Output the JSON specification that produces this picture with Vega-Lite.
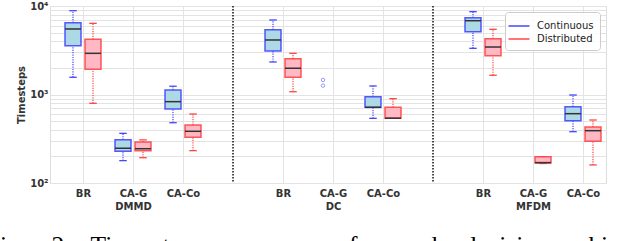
{
  "$schema": "https://vega.github.io/schema/vega-lite/v6.json",
  "width": 556,
  "height": 177,
  "autosize": {"type": "none"},
  "padding": {"left": 50, "top": 6, "right": 34, "bottom": 58},
  "background": "white",
  "config": {
    "font": "DejaVu Sans",
    "view": {"stroke": "#dddddd", "strokeWidth": 1},
    "axis": {"gridColor": "#e3e3e3", "gridWidth": 1, "domain": false, "ticks": false}
  },
  "title": {
    "text": "Fig.\u00a0\u00a0\u00a0\u00a02:\u00a0\u00a0\u00a0Time\u00a0\u00a0\u00a0to\u00a0\u00a0\u00a0convergence\u00a0\u00a0\u00a0for\u00a0\u00a0\u00a0each\u00a0\u00a0\u00a0decision-making",
    "orient": "bottom",
    "anchor": "start",
    "dx": -31,
    "offset": 23,
    "font": "Liberation Serif",
    "fontSize": 25.5,
    "fontWeight": "normal",
    "color": "#000000",
    "baseline": "top"
  },
  "datasets": {
    "boxes": [
      {"slot": 1, "series": "Continuous", "lo": 1565, "q1": 3560, "med": 5500, "q3": 6480, "hi": 8850},
      {"slot": 1, "series": "Distributed", "lo": 795, "q1": 1925, "med": 2920, "q3": 4200, "hi": 6370},
      {"slot": 2, "series": "Continuous", "lo": 179, "q1": 228, "med": 247, "q3": 308, "hi": 364},
      {"slot": 2, "series": "Distributed", "lo": 193, "q1": 232, "med": 244, "q3": 290, "hi": 307},
      {"slot": 3, "series": "Continuous", "lo": 480, "q1": 686, "med": 830, "q3": 1125, "hi": 1240},
      {"slot": 3, "series": "Distributed", "lo": 232, "q1": 328, "med": 384, "q3": 452, "hi": 602},
      {"slot": 5, "series": "Continuous", "lo": 2330, "q1": 3100, "med": 4130, "q3": 5400, "hi": 6950},
      {"slot": 5, "series": "Distributed", "lo": 1075, "q1": 1565, "med": 1980, "q3": 2540, "hi": 2920},
      {"slot": 7, "series": "Continuous", "lo": 538, "q1": 716, "med": 716, "q3": 944, "hi": 1248},
      {"slot": 7, "series": "Distributed", "lo": 538, "q1": 538, "med": 540, "q3": 716, "hi": 897},
      {"slot": 9, "series": "Continuous", "lo": 3325, "q1": 5125, "med": 6820, "q3": 7380, "hi": 8630},
      {"slot": 9, "series": "Distributed", "lo": 1650, "q1": 2745, "med": 3440, "q3": 4270, "hi": 5450},
      {"slot": 10, "series": "Distributed", "lo": 166, "q1": 168, "med": 170, "q3": 198, "hi": 198},
      {"slot": 11, "series": "Continuous", "lo": 380, "q1": 506, "med": 607, "q3": 728, "hi": 987},
      {"slot": 11, "series": "Distributed", "lo": 160, "q1": 296, "med": 390, "q3": 430, "hi": 515}
    ],
    "outliers": [
      {"slot": 6, "series": "Continuous", "value": 1460},
      {"slot": 6, "series": "Continuous", "value": 1260}
    ],
    "separators": [{"sep": 4}, {"sep": 8}]
  },
  "layer": [
    {
      "data": {"name": "separators"},
      "mark": {"type": "rule", "color": "#111111", "strokeDash": [1.5, 1.5], "strokeWidth": 1.5},
      "encoding": {
        "x": {"field": "sep", "type": "quantitative", "scale": {"domain": [0.34, 11.46], "nice": false, "zero": false},
          "axis": {
            "values": [1, 2, 3, 5, 6, 7, 9, 10, 11],
            "title": null,
            "grid": true,
            "labelExpr": "datum.value == 1 || datum.value == 5 || datum.value == 9 ? 'BR' : datum.value == 2 ? ['CA-G','DMMD'] : datum.value == 6 ? ['CA-G','DC'] : datum.value == 10 ? ['CA-G','MFDM'] : 'CA-Co'",
            "labelFontWeight": "bold",
            "labelFontSize": 10,
            "labelColor": "#333333",
            "labelLineHeight": 13,
            "labelPadding": 5
          }
        }
      }
    },
    {
      "data": {"name": "boxes"},
      "transform": [
        {"calculate": "datum.slot + (datum.series == 'Continuous' ? -0.2 : 0.2)", "as": "xpos"},
        {"calculate": "datum.xpos - 0.16", "as": "bl"},
        {"calculate": "datum.xpos + 0.16", "as": "br"},
        {"calculate": "datum.xpos - 0.075", "as": "cl"},
        {"calculate": "datum.xpos + 0.075", "as": "cr"}
      ],
      "resolve": {"legend": {"color": "independent"}},
      "layer": [
        {
          "mark": {"type": "rule", "strokeDash": [1.2, 1.2], "strokeWidth": 1.2},
          "encoding": {
            "x": {"field": "xpos", "type": "quantitative"},
            "y": {"field": "lo", "type": "quantitative",
              "scale": {"type": "log", "domain": [100, 10000], "nice": false},
              "axis": {
                "values": [100, 200, 300, 400, 500, 600, 700, 800, 900, 1000, 2000, 3000, 4000, 5000, 6000, 7000, 8000, 9000, 10000],
                "labelExpr": "datum.value == 100 ? '10²' : datum.value == 1000 ? '10³' : datum.value == 10000 ? '10⁴' : ''",
                "labelFontWeight": "bold",
                "labelFontSize": 10,
                "labelColor": "#333333",
                "labelPadding": 2,
                "title": "Timesteps",
                "titleFontWeight": "bold",
                "titleFontSize": 10,
                "titleColor": "#333333",
                "titlePadding": 3
              }
            },
            "y2": {"field": "q1"},
            "color": {"field": "series", "type": "nominal", "scale": {"domain": ["Continuous", "Distributed"], "range": ["#4646ff", "#ff4646"]}, "legend": null}
          }
        },
        {
          "mark": {"type": "rule", "strokeDash": [1.2, 1.2], "strokeWidth": 1.2},
          "encoding": {
            "x": {"field": "xpos", "type": "quantitative"},
            "y": {"field": "q3", "type": "quantitative"},
            "y2": {"field": "hi"},
            "color": {"field": "series", "type": "nominal", "legend": null}
          }
        },
        {
          "mark": {"type": "rule", "strokeWidth": 1.3},
          "encoding": {
            "x": {"field": "cl", "type": "quantitative"},
            "x2": {"field": "cr"},
            "y": {"field": "lo", "type": "quantitative"},
            "color": {"field": "series", "type": "nominal", "legend": null}
          }
        },
        {
          "mark": {"type": "rule", "strokeWidth": 1.3},
          "encoding": {
            "x": {"field": "cl", "type": "quantitative"},
            "x2": {"field": "cr"},
            "y": {"field": "hi", "type": "quantitative"},
            "color": {
              "field": "series", "type": "nominal",
              "legend": {
                "title": null,
                "orient": "top-right",
                "offset": 6,
                "symbolType": "M-1.5,0H1.5",
                "symbolSize": 196,
                "symbolStrokeWidth": 1.5,
                "symbolFillColor": "transparent",
                "labelFontSize": 10,
                "labelColor": "#222222",
                "labelOffset": 10,
                "fillColor": "rgba(255,255,255,0.85)",
                "strokeColor": "#cccccc",
                "cornerRadius": 3,
                "padding": 6,
                "rowPadding": 0
              }
            }
          }
        },
        {
          "mark": {"type": "bar", "strokeWidth": 1.5, "strokeOpacity": 0.85},
          "encoding": {
            "x": {"field": "bl", "type": "quantitative"},
            "x2": {"field": "br"},
            "y": {"field": "q1", "type": "quantitative"},
            "y2": {"field": "q3"},
            "fill": {"field": "series", "type": "nominal", "scale": {"domain": ["Continuous", "Distributed"], "range": ["#add8e6", "#ffb8c4"]}, "legend": null},
            "stroke": {"field": "series", "type": "nominal", "scale": {"domain": ["Continuous", "Distributed"], "range": ["#3c3cff", "#ff3c3c"]}, "legend": null}
          }
        },
        {
          "mark": {"type": "rule", "strokeWidth": 1.5, "color": "#333333"},
          "encoding": {
            "x": {"field": "bl", "type": "quantitative"},
            "x2": {"field": "br"},
            "y": {"field": "med", "type": "quantitative"}
          }
        }
      ]
    },
    {
      "data": {"name": "outliers"},
      "transform": [
        {"calculate": "datum.slot + (datum.series == 'Continuous' ? -0.2 : 0.2)", "as": "xpos"}
      ],
      "mark": {"type": "point", "shape": "circle", "size": 12, "strokeWidth": 1, "color": "#7070ff", "filled": false},
      "encoding": {
        "x": {"field": "xpos", "type": "quantitative"},
        "y": {"field": "value", "type": "quantitative"}
      }
    }
  ]
}
